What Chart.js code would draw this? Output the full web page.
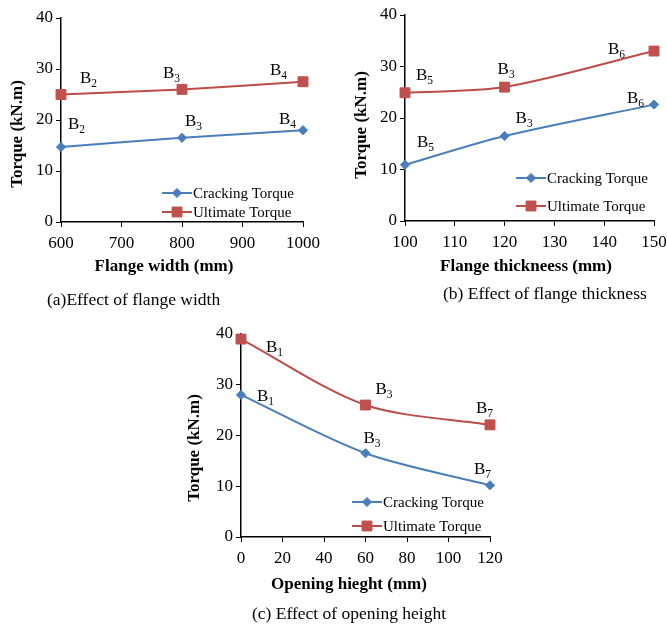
<!DOCTYPE html>
<html><head><meta charset="utf-8">
<script src="https://cdn.jsdelivr.net/npm/chart.js@4/dist/chart.umd.min.js"></script>
<style>
html,body{margin:0;padding:0;background:#fff;}
body{width:667px;height:626px;position:relative;overflow:hidden;font-family:"Liberation Serif","Times New Roman",serif;}
canvas{position:absolute;}
.cap{position:absolute;font-size:17.5px;line-height:20px;white-space:nowrap;color:#000;}
</style></head><body>
<canvas id="ca" width="335" height="290" style="left:0;top:0"></canvas>
<canvas id="cb" width="327" height="285" style="left:340px;top:0"></canvas>
<canvas id="cc" width="330" height="300" style="left:180px;top:310px"></canvas>
<div class="cap" style="left:47px;top:289px">(a)Effect of flange width</div>
<div class="cap" style="left:443px;top:283px">(b) Effect of flange thickness</div>
<div class="cap" style="left:252px;top:603px">(c) Effect of opening height</div>
<script>
// ---- data ----
const flangeWidth = [600, 800, 1000];
const crackingA = [14.7, 16.5, 18.0];
const ultimateA = [25.0, 26.0, 27.5];
const beamsA = ['B2', 'B3', 'B4'];

const flangeThickness = [100, 120, 150];
const crackingB = [10.9, 16.5, 22.6];
const ultimateB = [24.9, 26.0, 33.0];
const beamsB = ['B5', 'B3', 'B6'];

const openingHeight = [0, 60, 120];
const crackingC = [28.0, 16.5, 10.2];
const ultimateC = [39.0, 26.0, 22.1];
const beamsC = ['B1', 'B3', 'B7'];

const seriesNames = ['Cracking Torque', 'Ultimate Torque'];
const yTitle = 'Torque (kN.m)';

// ---- style ----
const FF = '"Liberation Serif","Times New Roman",serif';
const BLUE = '#4A7EBB', RED = '#BE4B48';

const deco = {
  id: 'deco',
  afterDatasetsDraw(chart, args, o) {
    const ctx = chart.ctx;
    ctx.save();
    // beam labels
    chart.data.datasets.forEach((ds, di) => {
      const meta = chart.getDatasetMeta(di);
      meta.data.forEach((pt, i) => {
        const lab = ds.beams[i];
        const off = o.offsets[di][i];
        const x = pt.x + off[0], y = pt.y + off[1];
        ctx.fillStyle = '#000';
        ctx.textAlign = 'left';
        ctx.textBaseline = 'alphabetic';
        ctx.font = '17px ' + FF;
        ctx.fillText(lab[0], x, y);
        const w = ctx.measureText(lab[0]).width;
        ctx.font = '11.5px ' + FF;
        ctx.fillText(lab.slice(1), x + w, y + 4);
      });
    });
    // legend
    chart.data.datasets.forEach((ds, di) => {
      const x0 = o.legend.x, y = o.legend.y[di];
      ctx.strokeStyle = ds.borderColor;
      ctx.lineWidth = 2;
      ctx.beginPath(); ctx.moveTo(x0, y); ctx.lineTo(x0 + 30, y); ctx.stroke();
      ctx.fillStyle = ds.pointBackgroundColor;
      ctx.strokeStyle = ds.pointBackgroundColor;
      ctx.lineWidth = 1;
      Chart.helpers.drawPoint(ctx, {pointStyle: ds.pointStyle, radius: ds.pointRadius, borderWidth: 1, rotation: 0}, x0 + 15, y);
      ctx.fillStyle = '#000';
      ctx.font = '15px ' + FF;
      ctx.textAlign = 'left';
      ctx.textBaseline = 'middle';
      ctx.fillText(ds.label, x0 + 31, y + 1);
    });
    // axis titles
    ctx.fillStyle = '#000';
    ctx.font = 'bold 17px ' + FF;
    ctx.textAlign = 'center';
    ctx.textBaseline = 'middle';
    ctx.fillText(o.xTitle.text, o.xTitle.x, o.xTitle.y);
    ctx.translate(o.yTitle.x, o.yTitle.y);
    ctx.rotate(-Math.PI / 2);
    ctx.fillText(yTitle, 0, 0);
    ctx.restore();
  }
};

function makeChart(id, xs, crack, ult, beams, cfg) {
  const pts = (ys) => xs.map((x, i) => ({x: x, y: ys[i]}));
  return new Chart(document.getElementById(id), {
    type: 'line',
    data: {
      datasets: [
        {label: seriesNames[0], data: pts(crack), beams: beams, borderColor: BLUE, borderWidth: 2,
         pointStyle: 'rectRot', pointRadius: 4.6, pointBackgroundColor: BLUE, pointBorderColor: BLUE,
         pointBorderWidth: 1, tension: cfg.tension, clip: false},
        {label: seriesNames[1], data: pts(ult), beams: beams, borderColor: RED, borderWidth: 2,
         pointStyle: 'rect', pointRadius: 7, pointBackgroundColor: '#C0504D', pointBorderColor: '#C0504D',
         pointBorderWidth: 1, tension: cfg.tension, clip: false}
      ]
    },
    options: {
      responsive: false,
      animation: false,
      layout: {padding: {top: cfg.top, right: cfg.right, left: 0, bottom: 0}},
      plugins: {
        legend: {display: false},
        tooltip: {enabled: false},
        deco: cfg.deco
      },
      scales: {
        x: {
          type: 'linear', min: cfg.xmin, max: cfg.xmax,
          afterFit: (s) => { s.height = cfg.xh; s.paddingLeft = 0; s.paddingRight = 0; },
          ticks: {stepSize: cfg.xstep, color: '#000', font: {family: FF, size: 17}, padding: 6, maxRotation: 0,
                  callback: (v) => String(v)},
          grid: {drawOnChartArea: false, drawTicks: true, tickLength: 5, color: '#000', lineWidth: 1},
          border: {display: true, color: '#000', width: 1.5}
        },
        y: {
          type: 'linear', min: 0, max: 40,
          afterFit: (s) => { s.width = cfg.yw; s.paddingTop = 0; s.paddingBottom = 0; },
          ticks: {stepSize: 10, color: '#000', font: {family: FF, size: 17}, padding: 3,
                  callback: (v) => String(v)},
          grid: {drawOnChartArea: false, drawTicks: true, tickLength: 5, color: '#000', lineWidth: 1},
          border: {display: true, color: '#000', width: 1.5}
        }
      }
    },
    plugins: [deco]
  });
}

makeChart('ca', flangeWidth, crackingA, ultimateA, beamsA, {
  tension: 0.3, xmin: 600, xmax: 1000, xstep: 100, top: 18, right: 32, xh: 68, yw: 61,
  deco: {
    offsets: [[[7, -18], [3, -12], [-24, -6]], [[19, -12], [-19, -11], [-33, -7]]],
    legend: {x: 162, y: [193, 212]},
    xTitle: {text: 'Flange width (mm)', x: 164, y: 267},
    yTitle: {x: 18, y: 134}
  }
});

makeChart('cb', flangeThickness, crackingB, ultimateB, beamsB, {
  tension: 0.3, xmin: 100, xmax: 150, xstep: 10, top: 15, right: 13, xh: 64, yw: 65,
  deco: {
    offsets: [[[12, -18], [11, -13], [-27, -2]], [[11, -13], [-7, -13], [-46, 3]]],
    legend: {x: 176, y: [178, 206]},
    xTitle: {text: 'Flange thickneess (mm)', x: 186, y: 267},
    yTitle: {x: 22, y: 125}
  }
});

makeChart('cc', openingHeight, crackingC, ultimateC, beamsC, {
  tension: 0.3, xmin: 0, xmax: 120, xstep: 20, top: 24, right: 20, xh: 73, yw: 61,
  deco: {
    offsets: [[[16, 6], [-2, -10], [-16, -11]], [[25, 13], [10, -11], [-14, -12]]],
    legend: {x: 172, y: [192, 216]},
    xTitle: {text: 'Opening hieght (mm)', x: 169, y: 275},
    yTitle: {x: 15, y: 138}
  }
});
</script>
</body></html>
